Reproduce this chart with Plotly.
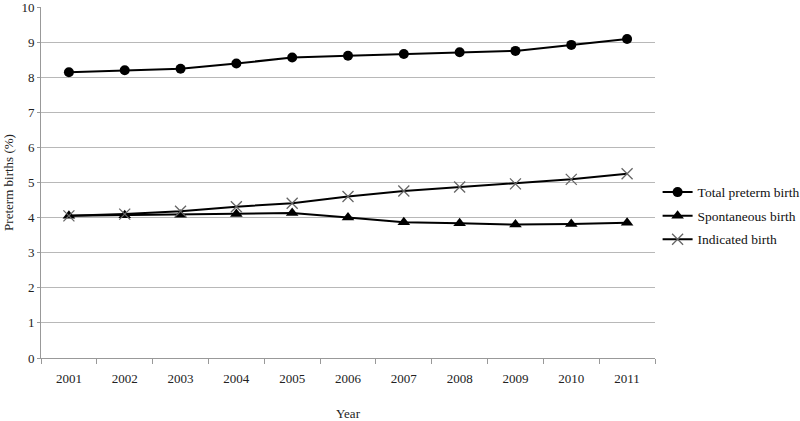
import plotly.graph_objects as go

years = ["2001", "2002", "2003", "2004", "2005", "2006", "2007", "2008", "2009", "2010", "2011"]
total_preterm = [8.14, 8.20, 8.24, 8.39, 8.56, 8.61, 8.66, 8.71, 8.75, 8.92, 9.09]
spontaneous = [4.05, 4.07, 4.08, 4.10, 4.13, 4.00, 3.87, 3.84, 3.80, 3.82, 3.85]
indicated = [4.05, 4.10, 4.18, 4.31, 4.41, 4.60, 4.76, 4.87, 4.96, 5.09, 5.25]
y_ticks = [0, 1, 2, 3, 4, 5, 6, 7, 8, 9, 10]

FONT = "Liberation Serif"

fig = go.Figure()
fig.add_trace(go.Scatter(
    x=years, y=total_preterm, name="Total preterm birth", mode="lines+markers",
    line=dict(color="black", width=2),
    marker=dict(symbol="circle", size=10, color="black"),
    legendgroup="a"))
fig.add_trace(go.Scatter(
    x=years, y=spontaneous, name="Spontaneous birth", mode="lines+markers",
    line=dict(color="black", width=2),
    marker=dict(symbol="triangle-up", size=11, color="black"),
    legendgroup="b"))
fig.add_trace(go.Scatter(
    x=years, y=indicated, name="Indicated birth", mode="lines+markers",
    line=dict(color="black", width=2),
    marker=dict(symbol="x-thin-open", size=11, color="#666666",
                line=dict(color="#666666", width=1.3)),
    legendgroup="c"))

fig.update_layout(
    width=800, height=421,
    margin=dict(l=41, r=145, t=7, b=63, autoexpand=False),
    paper_bgcolor="white", plot_bgcolor="white",
    font=dict(family=FONT, size=13, color="#222222"),
    showlegend=True,
    legend=dict(xref="container", yref="container", x=0.822, xanchor="left",
                y=0.58, yanchor="top",
                font=dict(family=FONT, size=13.5, color="#111111"),
                traceorder="grouped", tracegroupgap=3,
                bgcolor="rgba(0,0,0,0)"),
    xaxis=dict(
        type="category", range=[-0.5, 10.5], automargin=False,
        showgrid=False, showline=True, linecolor="#999999", linewidth=1,
        ticks="outside", tickson="boundaries", ticklen=5, tickcolor="#999999",
        ticklabelstandoff=8,
        tickfont=dict(family=FONT, size=13, color="#222222"),
        title=dict(text="Year", font=dict(family=FONT, size=13, color="#222222"), standoff=26),
    ),
    yaxis=dict(
        range=[0, 10], tickvals=y_ticks, automargin=False,
        ticklabeloverflow="allow",
        showgrid=True, gridcolor="#b8b8b8", gridwidth=1.3,
        showline=True, linecolor="#999999", linewidth=1,
        ticks="outside", ticklen=3, tickcolor="#999999",
        zeroline=False,
        tickfont=dict(family=FONT, size=13, color="#222222"),
        title=dict(text="Preterm births (%)", font=dict(family=FONT, size=13, color="#222222"), standoff=4),
    ),
)

fig.write_html("out.html", post_script="document.body.style.margin='0';",
               config={"displayModeBar": False})
